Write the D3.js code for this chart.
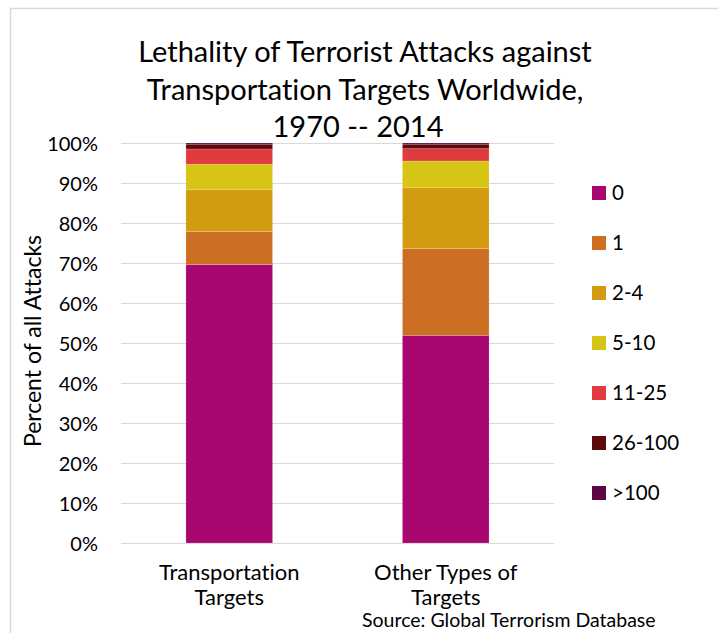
<!DOCTYPE html>
<html>
<head>
<meta charset="utf-8">
<script src="https://cdn.jsdelivr.net/npm/d3@7"></script>
<style>
  body { margin: 0; background: #fff; }
  text { font-family: Lato, "Open Sans", sans-serif; fill: #000; font-variant-ligatures: none; }
</style>
</head>
<body>
<script>
// data (percent of attacks)
var categories = ["Transportation Targets", "Other Types of Targets"];
var catLines = [["Transportation", "Targets"], ["Other Types of", "Targets"]];
var keys = ["0", "1", "2-4", "5-10", "11-25", "26-100", ">100"];
var transportVals = [69.6, 8.3, 10.4, 6.4, 3.8, 1.2, 0.3];
var otherVals = [51.9, 21.7, 15.2, 6.7, 3.1, 1.1, 0.3];
var colors = ["#a8076f", "#cc6f22", "#d39b10", "#d6c514", "#e03c40", "#5e0a0c", "#5c0646"];
var yTicks = [0, 10, 20, 30, 40, 50, 60, 70, 80, 90, 100];

var W = 718, H = 633;
var margin = {top: 143, left: 121, right: 164, bottom: 90};

var rows = categories.map(function(c, i) {
  var vals = i == 0 ? transportVals : otherVals;
  var r = {cat: c};
  keys.forEach(function(k, j) { r[k] = vals[j]; });
  return r;
});

var svg = d3.select("body").append("svg")
    .attr("width", W)
    .attr("height", H);

// chart frame
svg.append("rect")
    .attr("x", 10.5).attr("y", 8.5)
    .attr("width", W + 10).attr("height", H + 10)
    .attr("fill", "none")
    .attr("stroke", "#d9d9d9")
    .attr("stroke-width", 1.5);

var x = d3.scaleBand()
    .domain(categories)
    .range([margin.left, W - margin.right])
    .paddingInner(0.6)
    .paddingOuter(0.3);

var y = d3.scaleLinear()
    .domain([0, 100])
    .range([H - margin.bottom, margin.top]);

// gridlines + tick labels
var yAxis = d3.axisLeft(y)
    .tickValues(yTicks)
    .tickSize(-(W - margin.right - margin.left))
    .tickPadding(23)
    .tickFormat(function(d) { return d + "%"; });

var gy = svg.append("g")
    .attr("transform", "translate(" + margin.left + ",0)")
    .call(yAxis);
gy.select(".domain").remove();
gy.selectAll(".tick line").attr("stroke", "#d9d9d9").attr("stroke-width", 1.2);
gy.selectAll(".tick text")
    .style("font-size", "20px")
    .attr("dy", "0.36em");

// stacked bars
var stack = d3.stack().keys(keys);
var series = stack(rows);

svg.append("g").selectAll("g")
    .data(series)
    .enter().append("g")
      .attr("fill", function(d, i) { return colors[i]; })
    .selectAll("rect")
    .data(function(d) { return d; })
    .enter().append("rect")
      .attr("x", function(d) { return x(d.data.cat); })
      .attr("y", function(d) { return y(d[1]); })
      .attr("width", x.bandwidth())
      .attr("height", function(d) { return y(d[0]) - y(d[1]); })
      .attr("stroke", "rgba(255,255,255,0.25)")
      .attr("stroke-width", 0.6);

// category labels
categories.forEach(function(c, i) {
  var t = svg.append("text")
      .attr("text-anchor", "middle")
      .style("font-size", "22px");
  catLines[i].forEach(function(line, j) {
    t.append("tspan")
      .attr("x", x(c) + x.bandwidth() / 2)
      .attr("y", 580 + j * 25)
      .text(line);
  });
});

// y axis title
svg.append("text")
    .attr("transform", "translate(41,341) rotate(-90)")
    .attr("text-anchor", "middle")
    .style("font-size", "23px")
    .text("Percent of all Attacks");

// title
var title = ["Lethality of Terrorist Attacks against", "Transportation Targets Worldwide,", "1970 -- 2014"];
var tt = svg.append("text")
    .attr("text-anchor", "middle")
    .style("font-size", "29px");
title.forEach(function(line, i) {
  tt.append("tspan")
    .attr("x", i == 2 ? 358 : 365)
    .attr("y", 62 + i * 37.5)
    .text(line);
});

// legend
var legend = svg.append("g").selectAll("g")
    .data(keys)
    .enter().append("g")
      .attr("transform", function(d, i) { return "translate(592," + (193 + i * 50) + ")"; });
legend.append("rect")
    .attr("x", 0).attr("y", -7)
    .attr("width", 14).attr("height", 14)
    .attr("fill", function(d, i) { return colors[i]; });
legend.append("text")
    .attr("x", 20)
    .attr("y", 0)
    .attr("dy", "0.36em")
    .style("font-size", "20.5px")
    .text(function(d) { return d; });

// source note
svg.append("text")
    .attr("x", 362)
    .attr("y", 627)
    .style("font-size", "19.5px")
    .text("Source: Global Terrorism Database");
</script>
</body>
</html>
